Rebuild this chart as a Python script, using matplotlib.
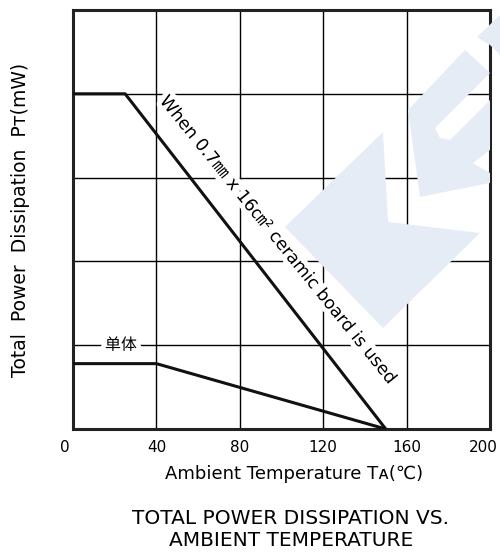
import matplotlib
matplotlib.use("Agg")
import matplotlib.pyplot as plt
from matplotlib.patches import Polygon
import matplotlib.patheffects as pe
from matplotlib.transforms import ScaledTranslation

plt.rcParams['font.family'] = ['DejaVu Sans', 'Noto Sans CJK JP']

# Data
board_temp = [0, 25, 150]
board_power = [4.0, 4.0, 0.0]
single_temp = [0, 40, 150]
single_power = [0.78, 0.78, 0.0]
x_ticks = [0, 40, 80, 120, 160, 200]
y_grid = [0, 1, 2, 3, 4, 5]

W, H = 500, 554
fig = plt.figure(figsize=(W / 100, H / 100), dpi=100)

# light watermark (figure pixel coords, y from top)
wm_color = '#e6ecf6'
wm_shapes = [
    [(285, 227), (383, 132), (388, 222), (480, 233), (383, 328)],
    [(408, 110), (465, 50), (490, 73), (435, 128), (440, 138), (450, 140),
     (490, 100), (490, 150), (473, 163), (490, 173), (490, 183), (420, 197)],
    [(477, 37), (500, 15), (500, 55), (490, 45)],
]
for pts in wm_shapes:
    fig.patches.append(Polygon([(x / W, 1 - y / H) for x, y in pts],
                               closed=True, transform=fig.transFigure,
                               facecolor=wm_color, edgecolor='none', zorder=0))

ax = fig.add_axes([73 / W, 1 - 429 / H, (490 - 73) / W, (429 - 10) / H])
ax.patch.set_alpha(0)
ax.set_xlim(0, 200)
ax.set_ylim(0, 5)
ax.set_xticks(x_ticks)
ax.set_xticklabels([str(t) for t in x_ticks], fontsize=11)
ax.set_yticks(y_grid)
ax.set_yticklabels([])
ax.tick_params(length=0, pad=8)
ax.grid(True, color='black', linewidth=1.0)
for s in ax.spines.values():
    s.set_linewidth(2.2)
    s.set_color('#222222')

labels = ax.get_xticklabels()
labels[0].set_transform(labels[0].get_transform() +
                        ScaledTranslation(-8 / 100, 0, fig.dpi_scale_trans))
labels[-1].set_transform(labels[-1].get_transform() +
                         ScaledTranslation(-7 / 100, 0, fig.dpi_scale_trans))

ax.plot(board_temp, board_power, color='#111111', linewidth=2.2, zorder=5,
        solid_capstyle='butt')
ax.plot(single_temp, single_power, color='#111111', linewidth=2.2, zorder=5,
        solid_capstyle='butt')

halo = [pe.withStroke(linewidth=7, foreground='white')]
ax.text(23, 1.0, '单体', family=['Noto Sans CJK SC'], fontsize=11.5,
        ha='center', va='center', path_effects=halo, zorder=4)
ax.text(98.5, 2.25, 'When 0.7㎜ x 16㎝² ceramic board is used', fontsize=12.5,
        rotation=-51, rotation_mode='anchor', ha='center', va='center',
        path_effects=halo, zorder=4)

ax.set_xlabel('Ambient Temperature Tᴀ(℃)', fontsize=13)
ax.xaxis.set_label_coords((294 - 73) / (490 - 73), -(474 - 429) / (429 - 10))
ax.xaxis.label.set_va('center')
ax.set_ylabel('Total  Power  Dissipation  Pᴛ(mW)', fontsize=13.5)
ax.yaxis.set_label_coords(-(73 - 20) / (490 - 73), 0.5)
ax.yaxis.label.set_va('center')

fig.text(291 / W, 1 - 518 / H, 'TOTAL POWER DISSIPATION VS.', fontsize=14.5,
         ha='center', va='center')
fig.text(291 / W, 1 - 541 / H, 'AMBIENT TEMPERATURE', fontsize=14.5,
         ha='center', va='center')

fig.savefig('out.png', dpi=100)
